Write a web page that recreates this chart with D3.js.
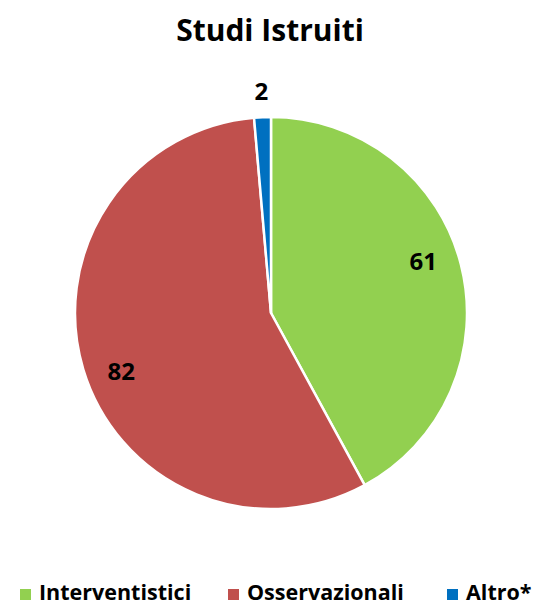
<!DOCTYPE html>
<html><head><meta charset="utf-8">
<script src="https://cdn.jsdelivr.net/npm/d3@7"></script>
<style>body{margin:0;background:#fff;}svg{display:block;}</style>
</head><body>
<script>
const categories = ["Interventistici", "Osservazionali", "Altro*"];
const values = [61, 82, 2];
const colors = ["#92D050", "#C0504D", "#0070C0"];
const title = "Studi Istruiti";

const W = 537, H = 606;
const cx = 271, cy = 313, R = 196;
const font = "'Open Sans', sans-serif";

const svg = d3.select("body").append("svg").attr("width", W).attr("height", H);

svg.append("text").attr("x", 270).attr("y", 41).attr("text-anchor", "middle")
  .attr("font-family", font).attr("font-weight", "bold").attr("font-size", 30)
  .attr("fill", "#000").text(title);

const data = categories.map((c, i) => ({ c, v: values[i], col: colors[i] }));
const pie = d3.pie().value(d => d.v).sort(null);
const arcs = pie(data);
const arc = d3.arc().innerRadius(0).outerRadius(R);

const g = svg.append("g").attr("transform", `translate(${cx},${cy})`);
g.selectAll("path").data(arcs).join("path")
  .attr("d", arc).attr("fill", d => d.data.col)
  .attr("stroke", "#fff").attr("stroke-width", 2.5).attr("stroke-linejoin", "round");

// labels
const labelRadius = [0.82, 0.82, 1.13];
const labelShift = [-4.5, -4.5, 0].map(a => a * Math.PI / 180);
g.selectAll("text.lbl").data(arcs).join("text").attr("class", "lbl")
  .attr("transform", (d, i) => {
    const a = (d.startAngle + d.endAngle) / 2 + labelShift[i];
    const r = R * labelRadius[i];
    return `translate(${Math.sin(a) * r},${-Math.cos(a) * r})`;
  })
  .attr("text-anchor", "middle").attr("dy", "0.35em")
  .attr("font-family", font).attr("font-weight", "bold").attr("font-size", 24)
  .attr("fill", "#000").text(d => d.data.v);

// legend
const legendX = [20, 228, 447];
const lg = svg.append("g");
data.forEach((d, i) => {
  lg.append("rect").attr("x", legendX[i]).attr("y", 589).attr("width", 11).attr("height", 11).attr("fill", d.col);
  lg.append("text").attr("x", legendX[i] + 19).attr("y", 599.5)
    .attr("font-family", font).attr("font-weight", "bold").attr("font-size", 21.5)
    .attr("fill", "#000").text(d.c);
});
</script>
</body></html>
